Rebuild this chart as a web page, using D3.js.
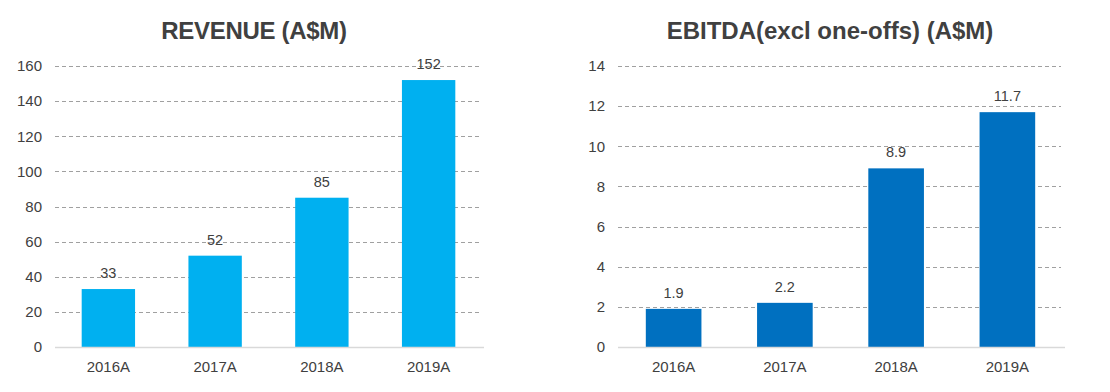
<!DOCTYPE html>
<html>
<head>
<meta charset="utf-8">
<script src="https://cdn.jsdelivr.net/npm/d3@7"></script>
<style>
  body { margin: 0; background: #fff; }
  svg { display: block; font-family: "Liberation Sans", Arial, sans-serif; }
  .tick text { fill: #404040; font-size: 15px; }
  .grid line { stroke: #a0a0a0; stroke-dasharray: 4,3; }
</style>
</head>
<body>
<svg id="chart" width="1110" height="392"></svg>
<script>
const years = ["2016A", "2017A", "2018A", "2019A"];
const revenue = [33, 52, 85, 152];
const ebitda = [1.9, 2.2, 8.9, 11.7];
const revenueTicks = [0, 20, 40, 60, 80, 100, 120, 140, 160];
const ebitdaTicks = [0, 2, 4, 6, 8, 10, 12, 14];

const textColor = "#404040";
const svg = d3.select("#chart");

function drawPanel(cfg) {
    const g = svg.append("g");
    const x = d3.scaleBand().domain(years).range([cfg.x0, cfg.x1]).paddingInner(0.5).paddingOuter(0.25);
    const y = d3.scaleLinear().domain([0, cfg.ticks[cfg.ticks.length - 1]]).range([347, 66]);

    // dashed gridlines
    g.append("g").attr("class", "grid")
        .selectAll("line")
        .data(cfg.ticks.filter(t => t > 0))
        .enter().append("line")
        .attr("x1", cfg.x0).attr("x2", cfg.gridEnd)
        .attr("y1", d => Math.round(y(d)) + 0.5).attr("y2", d => Math.round(y(d)) + 0.5);

    // y axis labels only
    const yAxis = g.append("g")
        .attr("transform", `translate(${cfg.labelX},0)`)
        .call(d3.axisLeft(y).tickValues(cfg.ticks).tickSize(0).tickPadding(0));
    yAxis.select(".domain").remove();

    // bars
    g.selectAll("rect.bar")
        .data(cfg.values)
        .enter().append("rect")
        .attr("class", "bar")
        .attr("x", (d, i) => x(years[i]))
        .attr("width", x.bandwidth())
        .attr("y", d => y(d))
        .attr("height", d => y(0) - y(d))
        .attr("fill", cfg.color);

    // baseline
    g.append("line")
        .attr("x1", cfg.x0).attr("x2", cfg.x1 + 2)
        .attr("y1", y(0) + 0.5).attr("y2", y(0) + 0.5)
        .attr("stroke", "#d9d9d9").attr("stroke-width", 1.5);

    // x axis
    const xAxis = g.append("g")
        .attr("transform", `translate(0,${y(0)})`)
        .call(d3.axisBottom(x).tickSize(0).tickPadding(14));
    xAxis.select(".domain").remove();

    // value labels
    g.selectAll("text.value")
        .data(cfg.values)
        .enter().append("text")
        .attr("class", "value")
        .attr("x", (d, i) => x(years[i]) + x.bandwidth() / 2)
        .attr("y", d => y(d) - 11)
        .attr("text-anchor", "middle")
        .attr("fill", textColor)
        .attr("font-size", 14.5)
        .text(d => d);

    // title
    g.append("text")
        .attr("x", cfg.titleX)
        .attr("y", 39)
        .attr("text-anchor", "middle")
        .attr("fill", textColor)
        .attr("font-size", 24)
        .attr("font-weight", "bold")
        .attr("letter-spacing", cfg.titleSpacing)
        .text(cfg.title);
}

drawPanel({
    title: "REVENUE (A$M)", titleX: 254, titleSpacing: -0.3,
    values: revenue, ticks: revenueTicks, color: "#00B0F0",
    x0: 55, x1: 482, gridEnd: 480, labelX: 42
});
drawPanel({
    title: "EBITDA(excl one-offs) (A$M)", titleX: 830, titleSpacing: 0,
    values: ebitda, ticks: ebitdaTicks, color: "#0070C0",
    x0: 618, x1: 1063, gridEnd: 1061, labelX: 605
});
</script>
</body>
</html>
